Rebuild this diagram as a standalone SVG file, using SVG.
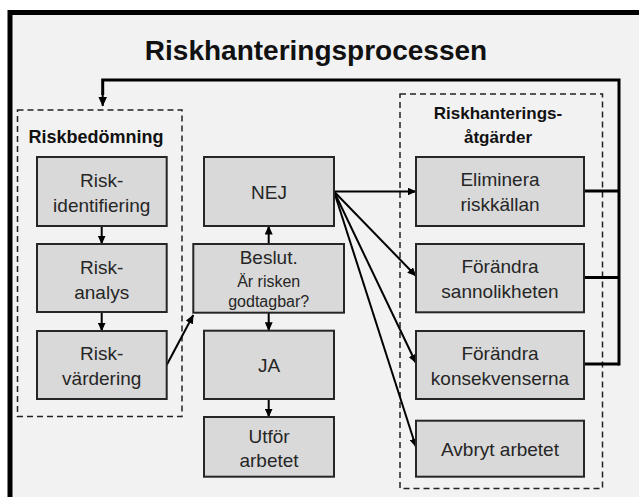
<svg xmlns="http://www.w3.org/2000/svg" width="639" height="497" viewBox="0 0 639 497">
<style>
.box{fill:#d9d9d9;stroke:#262626;stroke-width:2}
.t{font-family:"Liberation Sans",Arial,sans-serif;font-size:19px;fill:#262626;text-anchor:middle}
.ts{font-size:16px}
.h{font-family:"Liberation Sans",Arial,sans-serif;font-weight:bold;font-size:17px;fill:#111;text-anchor:middle}
.hl{font-size:18px}
.dash{fill:none;stroke:#222;stroke-width:1.5;stroke-dasharray:6 4}
.c{fill:none;stroke:#000;stroke-width:2;marker-end:url(#ah)}
.fb{fill:none;stroke:#000;stroke-width:3}
</style>
<defs>
<marker id="ah" markerUnits="userSpaceOnUse" markerWidth="9" markerHeight="8" refX="8.5" refY="4" orient="auto">
<path d="M0,0 L9,4 L0,8 z" fill="#000"/>
</marker>
<marker id="ah2" markerUnits="userSpaceOnUse" markerWidth="10" markerHeight="9" refX="9.5" refY="4.5" orient="auto">
<path d="M0,0 L10,4.5 L0,9 z" fill="#000"/>
</marker>
</defs>
<rect x="0" y="0" width="639" height="497" fill="#ffffff"/>
<rect id="frame" x="10" y="12.5" width="650" height="500" fill="#f2f2f2" stroke="#000" stroke-width="5"/>
<text id="title" x="316" y="60" font-family="'Liberation Sans',Arial,sans-serif" font-weight="bold" font-size="28" fill="#111" text-anchor="middle">Riskhanteringsprocessen</text>

<g id="riskbedomning">
<rect class="dash" x="17.5" y="110" width="164.5" height="306.5"/>
<text class="h hl" x="96" y="143">Riskbedömning</text>
</g>
<g id="atgarder">
<rect class="dash" x="400" y="94" width="202.5" height="394.5"/>
<text class="h" x="498" y="119">Riskhanterings-</text>
<text class="h" x="498" y="142.5">åtgärder</text>
</g>

<g id="connectors">
<line class="c" x1="101.7" y1="226" x2="101.7" y2="244"/>
<line class="c" x1="101.7" y1="312" x2="101.7" y2="331"/>
<line class="c" x1="166.7" y1="365" x2="193.3" y2="315"/>
<line class="c" x1="268.7" y1="244" x2="268.7" y2="226"/>
<line class="c" x1="268.7" y1="312.7" x2="268.7" y2="330.7"/>
<line class="c" x1="268.7" y1="399" x2="268.7" y2="417"/>
<line class="c" x1="334" y1="191.5" x2="416" y2="191.5"/>
<line class="c" x1="334" y1="191.5" x2="416" y2="276"/>
<line class="c" x1="334" y1="191.5" x2="416" y2="363"/>
<line class="c" x1="334" y1="191.5" x2="416" y2="447"/>
<line class="fb" x1="584" y1="191" x2="619" y2="191"/>
<line class="fb" x1="584" y1="277.5" x2="619" y2="277.5"/>
<line class="fb" x1="584" y1="364" x2="619" y2="364"/>
<path class="fb" d="M619,365.5 L619,80 L102.7,80 L102.7,95"/>
<line x1="102.7" y1="94" x2="102.7" y2="106" stroke="#000" stroke-width="2" marker-end="url(#ah2)"/>
</g>

<g id="risk-identifiering">
<rect class="box" x="37" y="157" width="129.7" height="69"/>
<text class="t" x="101.7" y="186.5">Risk-</text>
<text class="t" x="101.7" y="211.5">identifiering</text>
</g>
<g id="risk-analys">
<rect class="box" x="37" y="244" width="129.7" height="68"/>
<text class="t" x="101.7" y="273.5">Risk-</text>
<text class="t" x="101.7" y="298.5">analys</text>
</g>
<g id="risk-vardering">
<rect class="box" x="37" y="331" width="129.7" height="68"/>
<text class="t" x="101.7" y="360">Risk-</text>
<text class="t" x="101.7" y="385">värdering</text>
</g>

<g id="nej">
<rect class="box" x="204" y="157" width="130" height="69"/>
<text class="t" x="269" y="198.5">NEJ</text>
</g>
<g id="beslut">
<rect class="box" x="193.3" y="244" width="150.7" height="68.7"/>
<text class="t" x="268.7" y="264">Beslut.</text>
<text class="t ts" x="268.7" y="286.5">Är risken</text>
<text class="t ts" x="268.7" y="307">godtagbar?</text>
</g>
<g id="ja">
<rect class="box" x="204" y="330.7" width="130" height="68.3"/>
<text class="t" x="269" y="372">JA</text>
</g>
<g id="utfor">
<rect class="box" x="204" y="417" width="130" height="59.7"/>
<text class="t" x="269" y="442.5">Utför</text>
<text class="t" x="269" y="466.5">arbetet</text>
</g>

<g id="eliminera">
<rect class="box" x="416" y="157" width="168" height="69"/>
<text class="t" x="500" y="186">Eliminera</text>
<text class="t" x="500" y="210.5">riskkällan</text>
</g>
<g id="sannolikheten">
<rect class="box" x="416" y="244" width="168" height="68.3"/>
<text class="t" x="500" y="273">Förändra</text>
<text class="t" x="500" y="298">sannolikheten</text>
</g>
<g id="konsekvenserna">
<rect class="box" x="416" y="331" width="168" height="68"/>
<text class="t" x="500" y="360">Förändra</text>
<text class="t" x="500" y="384.5">konsekvenserna</text>
</g>
<g id="avbryt">
<rect class="box" x="416" y="420.7" width="168" height="56"/>
<text class="t" x="500" y="455.5">Avbryt arbetet</text>
</g>
</svg>
